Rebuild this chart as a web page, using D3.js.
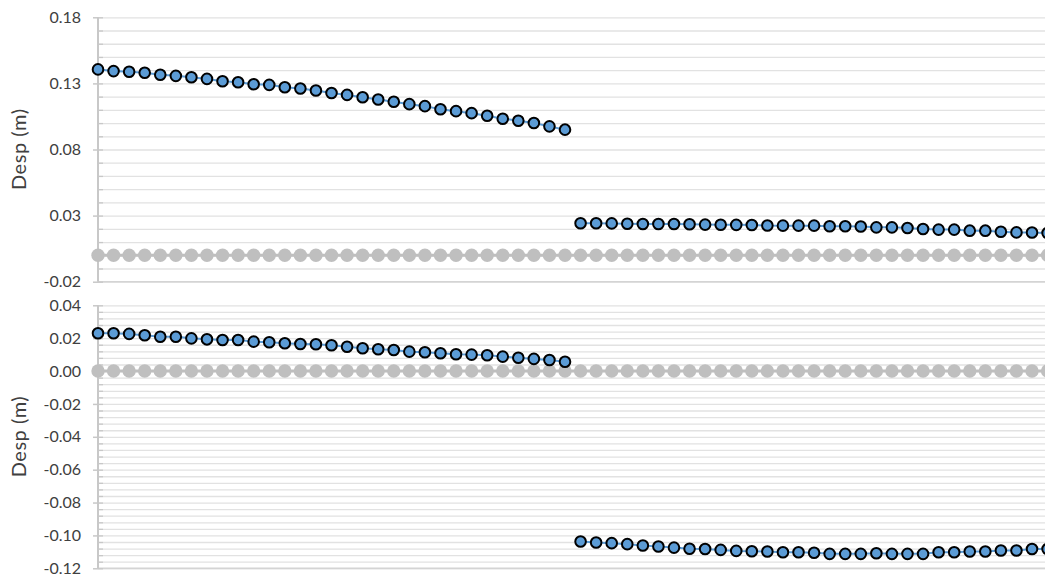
<!DOCTYPE html>
<html>
<head>
<meta charset="utf-8">
<script src="https://cdn.jsdelivr.net/npm/d3@7"></script>
<style>
  html, body { margin: 0; padding: 0; background: #fff; }
  svg { display: block; font-family: Lato, "Open Sans", sans-serif; }
  .tick text { fill: #404040; }
</style>
</head>
<body>
<svg id="chart" width="1045" height="579"></svg>
<script>
// Displacement at each station, upper panel (m)
const topDisp = [
  0.1406, 0.1393, 0.1388, 0.1380, 0.1365, 0.1357, 0.1346, 0.1334, 0.1316, 0.1309,
  0.1294, 0.1289, 0.1271, 0.1261, 0.1246, 0.1227, 0.1213, 0.1195, 0.1178, 0.1161,
  0.1143, 0.1128, 0.1105, 0.1090, 0.1075, 0.1055, 0.1033, 0.1018, 0.1000, 0.0975,
  0.0950,
  0.0242, 0.0242, 0.0241, 0.0238, 0.0237, 0.0236, 0.0236, 0.0235, 0.0232, 0.0231,
  0.0230, 0.0229, 0.0225, 0.0224, 0.0224, 0.0224, 0.0219, 0.0219, 0.0218, 0.0211,
  0.0211, 0.0206, 0.0199, 0.0194, 0.0194, 0.0186, 0.0186, 0.0178, 0.0173, 0.0172,
  0.0168
];
// Displacement at each station, lower panel (m)
const bottomDisp = [
  0.0230, 0.0230, 0.0226, 0.0218, 0.0209, 0.0209, 0.0199, 0.0193, 0.0189, 0.0189,
  0.0179, 0.0175, 0.0169, 0.0165, 0.0163, 0.0157, 0.0148, 0.0139, 0.0133, 0.0128,
  0.0118, 0.0114, 0.0108, 0.0102, 0.0100, 0.0096, 0.0088, 0.0081, 0.0074, 0.0067,
  0.0057,
  -0.1037, -0.1043, -0.1047, -0.1053, -0.1061, -0.1067, -0.1074, -0.1081, -0.1083, -0.1088,
  -0.1094, -0.1096, -0.1098, -0.1102, -0.1102, -0.1105, -0.1112, -0.1112, -0.1112, -0.1108,
  -0.1112, -0.1112, -0.1112, -0.1102, -0.1102, -0.1098, -0.1098, -0.1092, -0.1092, -0.1083,
  -0.1083, -0.1080
];
// Reference (undeformed) position
const baseline = [
  0, 0, 0, 0, 0, 0, 0, 0, 0, 0, 0, 0, 0, 0, 0, 0, 0, 0, 0, 0, 0,
  0, 0, 0, 0, 0, 0, 0, 0, 0, 0, 0, 0, 0, 0, 0, 0, 0, 0, 0, 0, 0,
  0, 0, 0, 0, 0, 0, 0, 0, 0, 0, 0, 0, 0, 0, 0, 0, 0, 0, 0, 0
];
// The displacement curve is discontinuous between these two stations
const breakAt = 31;

const topTicks = [-0.02, 0.03, 0.08, 0.13, 0.18];
const topMinorStep = 0.01;
const bottomTicks = [-0.12, -0.10, -0.08, -0.06, -0.04, -0.02, 0.00, 0.02, 0.04];
const bottomMinorStep = 0.004;
const yTitle = "Desp (m)";

const svg = d3.select("#chart");
const left = 98, step = 15.567;
const n = baseline.length;
const x = d3.scaleLinear().domain([0, n - 1]).range([left, left + (n - 1) * step]);
const plotRight = 1050;

const fmt = d => d.toFixed(2);

function panel(opts) {
  const { disp, ticks, minorStep, yRange } = opts;
  const dom = d3.extent(ticks);
  const y = d3.scaleLinear().domain(dom).range(yRange);
  const g = svg.append("g");
  const minor = d3.range(Math.round((dom[1] - dom[0]) / minorStep) + 1).map(i => dom[0] + i * minorStep);

  // gridlines at every minor step
  g.append("g")
    .attr("transform", `translate(${left},0)`)
    .call(d3.axisLeft(y).tickValues(minor).tickSize(-(plotRight - left)).tickFormat(""))
    .call(a => a.select(".domain").remove())
    .call(a => a.selectAll("line").attr("stroke", "#e2e2e2").attr("stroke-width", 1.3));

  // horizontal axis line along the bottom
  g.append("line")
    .attr("x1", left).attr("x2", plotRight)
    .attr("y1", y(dom[0])).attr("y2", y(dom[0]))
    .attr("stroke", "#d4d4d4").attr("stroke-width", 1.5);

  // minor tick marks (inside)
  g.append("g")
    .attr("transform", `translate(${left},0)`)
    .call(d3.axisLeft(y).tickValues(minor).tickSize(-5).tickFormat(""))
    .call(a => a.select(".domain").remove())
    .call(a => a.selectAll("line").attr("stroke", "#c8c8c8").attr("stroke-width", 1.3));

  // major ticks and labels
  g.append("g")
    .attr("transform", `translate(${left},0)`)
    .call(d3.axisLeft(y).tickValues(ticks).tickSize(5).tickPadding(12).tickFormat(fmt))
    .call(a => a.select(".domain").attr("stroke", "#c8c8c8").attr("stroke-width", 2).attr("d", `M0,${yRange[0]}V${yRange[1]}`))
    .call(a => a.selectAll("line").attr("stroke", "#c8c8c8").attr("stroke-width", 1.5))
    .call(a => a.selectAll("text").attr("font-size", 16).attr("font-family", "Lato, sans-serif").attr("fill", "#404040"));

  // axis title
  g.append("text")
    .attr("transform", `translate(25.5,${(yRange[0] + yRange[1]) / 2}) rotate(-90)`)
    .attr("text-anchor", "middle")
    .attr("font-size", 20)
    .attr("textLength", 81)
    .attr("lengthAdjust", "spacing")
    .attr("fill", "#404040")
    .text(yTitle);

  const line = d3.line().x((d, i) => x(d.i)).y(d => y(d.v));

  // reference series
  const base = baseline.map((v, i) => ({ i, v }));
  g.append("path").datum(base).attr("d", line)
    .attr("fill", "none").attr("stroke", "#bfbfbf").attr("stroke-width", 3);
  g.selectAll(".base").data(base).enter().append("circle")
    .attr("cx", d => x(d.i)).attr("cy", d => y(d.v)).attr("r", 6.7)
    .attr("fill", "#bfbfbf");

  // displacement series, in two pieces
  const pts = disp.map((v, i) => ({ i, v }));
  [pts.slice(0, breakAt), pts.slice(breakAt)].forEach(seg => {
    g.append("path").datum(seg).attr("d", line)
      .attr("fill", "none").attr("stroke", "#5b9bd5").attr("stroke-width", 2);
  });
  g.selectAll(".disp").data(pts).enter().append("circle")
    .attr("cx", d => x(d.i)).attr("cy", d => y(d.v)).attr("r", 5.3)
    .attr("fill", "#5b9bd5").attr("stroke", "#000").attr("stroke-width", 2);
}

panel({ disp: topDisp, ticks: topTicks, minorStep: topMinorStep, yRange: [281.7, 17.3] });
panel({ disp: bottomDisp, ticks: bottomTicks, minorStep: bottomMinorStep, yRange: [568.3, 305.3] });
</script>
</body>
</html>
